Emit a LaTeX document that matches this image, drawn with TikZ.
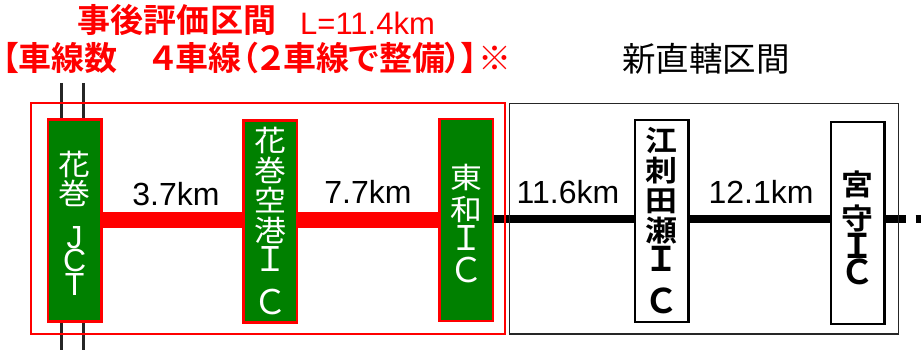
\documentclass[tikz,border=0pt]{standalone}
\usepackage{fontspec}
\setmainfont{Liberation Sans}
\newfontfamily\jp{Noto Sans CJK JP}
\newfontfamily\jpb{Noto Sans CJK JP Bold}[RawFeature=+palt]
\newfontfamily\jpw{Noto Sans CJK JP}[FakeStretch=1.1]
\newfontfamily\jpwb{Noto Sans CJK JP Bold}[FakeStretch=1.1]
\newcommand\fwl[1]{{\jp\fontsize{34}{34}\selectfont #1}}
\newcommand\fwlb[1]{{\jpb\fontsize{34}{34}\selectfont #1}}
\newcommand\hwl[1]{{\normalfont\fontsize{32}{32}\selectfont #1}}
\newcommand\cjc[1]{\makebox[33.2pt]{#1}}
\definecolor{icgreen}{RGB}{0,128,0}
\definecolor{rd}{RGB}{255,0,0}
\tikzset{
  icbox/.style={line width=2.5pt, minimum width=53.5pt, minimum height=202pt,
    inner sep=0pt},
  greenic/.style={icbox, draw=rd, fill=icgreen},
  whiteic/.style={icbox, draw=black, fill=white},
  ictext/.style={anchor=base, inner sep=0pt, align=center},
  gtext/.style={ictext, text=white, font=\jpw\fontsize{29}{30}\selectfont},
  wtext/.style={ictext, text=black, font=\jpwb\fontsize{29}{30}\selectfont},
  redroad/.style={draw=rd, line width=16pt},
  blackroad/.style={draw=black, line width=8pt},
  jctline/.style={draw=black!85, line width=3pt},
  dist/.style={anchor=base, inner sep=0pt, font=\fontsize{32}{32}\selectfont},
  frame/.style={line width=#1, minimum height=230.5pt, inner sep=0pt},
}
\begin{document}
\begin{tikzpicture}[x=1pt,y=-1pt]
\useasboundingbox (0,0) rectangle (921,350);
% vertical lines at Hanamaki JCT
\coordinate (v1t) at (61.7,83);
\coordinate (v1b) at (61.7,350);
\coordinate (v2t) at (83.3,83);
\coordinate (v2b) at (83.3,350);
\draw[jctline] (v1t) -- (v1b);
\draw[jctline] (v2t) -- (v2b);
% road reference heights
\coordinate (rr) at (0,220);
\coordinate (rb) at (0,219);
\coordinate (endc) at (921,219);
% interchanges
\node[greenic] (jct) at (74.7,220.5) {};
\node[greenic] (kuko) at (270.3,221.4) {};
\node[greenic] (towa) at (466.3,219.8) {};
\node[whiteic] (esashi) at (661.7,220.8) {};
\node[whiteic] (miyamori) at (857.7,223.2) {};
\node[gtext] (jcttxt) at (74.7,295) {花\\[-1pt]巻\\[14pt]\hwl{J}\\[-7pt]\hwl{C}\\[-6pt]\hwl{T}};
\node[gtext] (kukotxt) at (270.3,314) {花\\巻\\空\\港\\\fwl{Ｉ}\\[13pt]\fwl{Ｃ}};
\node[gtext] (towatxt) at (466.3,282) {東\\[2pt]和\\\fwl{Ｉ}\\[2pt]\fwl{Ｃ}};
\node[wtext] (esashitxt) at (661.7,313) {江\\刺\\田\\瀬\\\fwlb{Ｉ}\\[12pt]\fwlb{Ｃ}};
\node[wtext] (miyamoritxt) at (857.7,284) {宮\\[4pt]守\\[-1pt]\fwlb{Ｉ}\\[-4pt]\fwlb{Ｃ}};
% roads
\draw[redroad] (jct.east |- rr) -- (kuko.west |- rr);
\draw[redroad] (kuko.east |- rr) -- (towa.west |- rr);
\draw[blackroad] (towa.east |- rb) -- (esashi.west |- rb);
\draw[blackroad] (esashi.east |- rb) -- (miyamori.west |- rb);
\draw[blackroad, dash pattern=on 20pt off 10pt on 10pt off 10pt] (miyamori.east |- rb) -- (endc);
% section frames
\node[frame=2pt, draw=rd, minimum width=474pt] (evalsec) at (267.5,218.75) {};
\node[frame=1.5pt, draw=black!85, minimum width=389pt] (newsec) at (704,218.75) {};
% distances
\node[dist] (d1) at (176,205) {3.7km};
\node[dist] (d2) at (368,203) {7.7km};
\node[dist] (d3) at (568,204) {11.6km};
\node[dist] (d4) at (761,204) {12.1km};
% titles
\node[anchor=base west, inner sep=0pt, text=rd, font=\jpb\fontsize{33}{33}\selectfont] (t1a) at (77,33) {\cjc{事}\cjc{後}\cjc{評}\cjc{価}\cjc{区}\cjc{間}};
\node[anchor=base west, inner sep=0pt, text=rd, font=\fontsize{31}{31}\selectfont] (t1b) at (300,34.5) {L=11.4km};
\node[anchor=base west, inner sep=0pt, text=rd, font=\jpb\fontsize{33}{33}\selectfont] (t2) at (2,71) {【車線数　４車線（２車線で整備）】※};
\node[anchor=base, inner sep=0pt, text=black, font=\jp\fontsize{33.5}{33.5}\selectfont] (t3) at (706,72) {新直轄区間};
\end{tikzpicture}
\end{document}
